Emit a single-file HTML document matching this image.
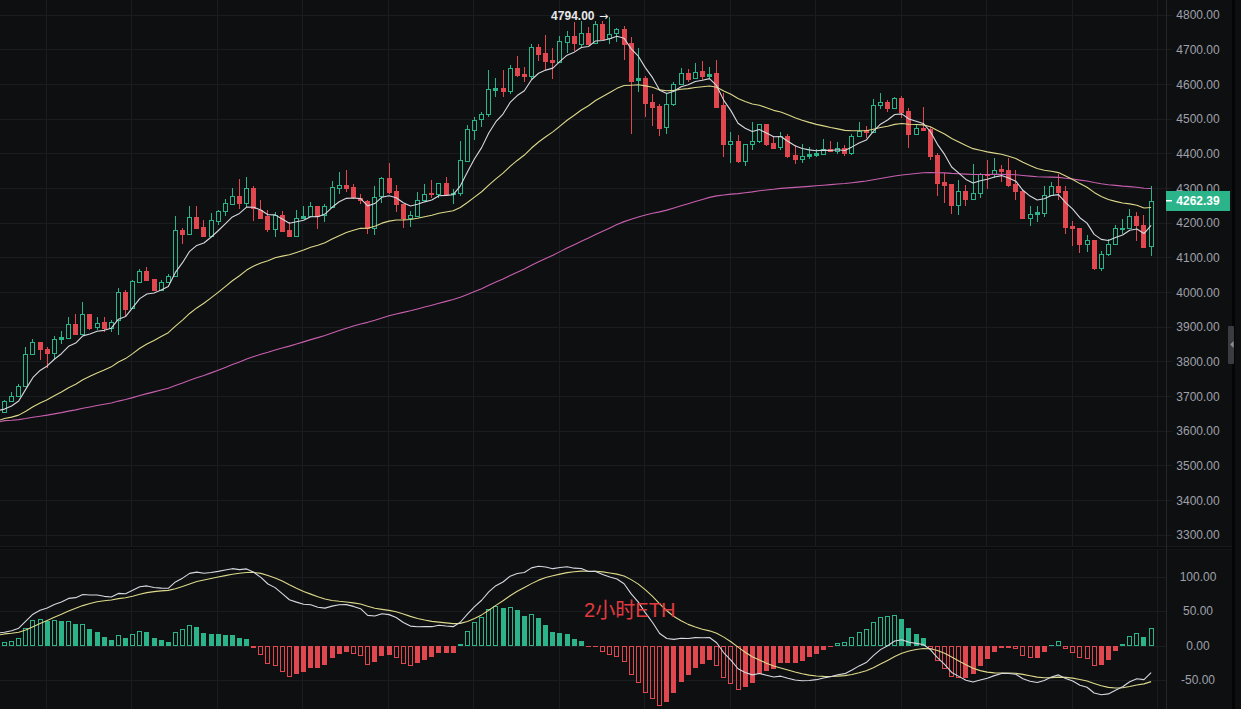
<!DOCTYPE html><html><head><meta charset="utf-8"><style>html,body{margin:0;padding:0;background:#0e0f11;width:1241px;height:709px;overflow:hidden}svg{display:block}text{font-family:"Liberation Sans","Noto Sans CJK SC",sans-serif}</style></head><body><svg width="1241" height="709" viewBox="0 0 1241 709"><rect x="0" y="0" width="1241" height="709" fill="#0e0f11"/><g fill="#1b1c20" shape-rendering="crispEdges"><rect x="46" y="0" width="1" height="709"/><rect x="131" y="0" width="1" height="709"/><rect x="217" y="0" width="1" height="709"/><rect x="302" y="0" width="1" height="709"/><rect x="388" y="0" width="1" height="709"/><rect x="473" y="0" width="1" height="709"/><rect x="559" y="0" width="1" height="709"/><rect x="644" y="0" width="1" height="709"/><rect x="730" y="0" width="1" height="709"/><rect x="815" y="0" width="1" height="709"/><rect x="901" y="0" width="1" height="709"/><rect x="986" y="0" width="1" height="709"/><rect x="1072" y="0" width="1" height="709"/><rect x="1157" y="0" width="1" height="709"/><rect x="0" y="15" width="1172" height="1"/><rect x="0" y="49" width="1172" height="1"/><rect x="0" y="84" width="1172" height="1"/><rect x="0" y="119" width="1172" height="1"/><rect x="0" y="153" width="1172" height="1"/><rect x="0" y="188" width="1172" height="1"/><rect x="0" y="223" width="1172" height="1"/><rect x="0" y="257" width="1172" height="1"/><rect x="0" y="292" width="1172" height="1"/><rect x="0" y="327" width="1172" height="1"/><rect x="0" y="361" width="1172" height="1"/><rect x="0" y="396" width="1172" height="1"/><rect x="0" y="431" width="1172" height="1"/><rect x="0" y="465" width="1172" height="1"/><rect x="0" y="500" width="1172" height="1"/><rect x="0" y="535" width="1172" height="1"/><rect x="0" y="577" width="1166" height="1"/><rect x="0" y="611" width="1166" height="1"/><rect x="0" y="646" width="1166" height="1"/><rect x="0" y="680" width="1166" height="1"/></g><rect x="0" y="546" width="1232" height="1" fill="#1a1b1e" shape-rendering="crispEdges"/><rect x="0" y="547" width="1232" height="2" fill="#0a0b0d" shape-rendering="crispEdges"/><rect x="0" y="549" width="1232" height="1" fill="#131417" shape-rendering="crispEdges"/><rect x="1166" y="0" width="1" height="709" fill="#26272c" shape-rendering="crispEdges"/><rect x="1232" y="0" width="3" height="709" fill="#050506" shape-rendering="crispEdges"/><g shape-rendering="crispEdges"><rect x="4" y="400" width="1" height="1" fill="#2bb48a"/><rect x="4" y="412" width="1" height="1" fill="#2bb48a"/><rect x="2.5" y="401.5" width="4" height="11" fill="none" stroke="#2bb48a" stroke-width="1"/><rect x="11" y="392" width="1" height="4" fill="#2bb48a"/><rect x="9.5" y="396.5" width="4" height="5" fill="none" stroke="#2bb48a" stroke-width="1"/><rect x="18" y="384" width="1" height="2" fill="#2bb48a"/><rect x="16.5" y="386.5" width="4" height="10" fill="none" stroke="#2bb48a" stroke-width="1"/><rect x="25" y="347" width="1" height="7" fill="#2bb48a"/><rect x="23.5" y="354.5" width="4" height="32" fill="none" stroke="#2bb48a" stroke-width="1"/><rect x="32" y="339" width="1" height="3" fill="#2bb48a"/><rect x="30.5" y="342.5" width="4" height="12" fill="none" stroke="#2bb48a" stroke-width="1"/><rect x="40" y="342" width="1" height="18" fill="#e1474f"/><rect x="38" y="342" width="5" height="8" fill="#e1474f"/><rect x="47" y="347" width="1" height="21" fill="#e1474f"/><rect x="45" y="349" width="5" height="5" fill="#e1474f"/><rect x="54" y="336" width="1" height="3" fill="#2bb48a"/><rect x="54" y="353" width="1" height="6" fill="#2bb48a"/><rect x="52.5" y="339.5" width="4" height="14" fill="none" stroke="#2bb48a" stroke-width="1"/><rect x="61" y="331" width="1" height="6" fill="#2bb48a"/><rect x="61" y="339" width="1" height="5" fill="#2bb48a"/><rect x="59" y="337" width="5" height="3" fill="#2bb48a"/><rect x="68" y="317" width="1" height="7" fill="#2bb48a"/><rect x="66.5" y="324.5" width="4" height="14" fill="none" stroke="#2bb48a" stroke-width="1"/><rect x="75" y="314" width="1" height="21" fill="#e1474f"/><rect x="73" y="324" width="5" height="11" fill="#e1474f"/><rect x="82" y="302" width="1" height="12" fill="#2bb48a"/><rect x="82" y="334" width="1" height="1" fill="#2bb48a"/><rect x="80.5" y="314.5" width="4" height="20" fill="none" stroke="#2bb48a" stroke-width="1"/><rect x="89" y="314" width="1" height="16" fill="#e1474f"/><rect x="87" y="314" width="5" height="15" fill="#e1474f"/><rect x="97" y="317" width="1" height="6" fill="#2bb48a"/><rect x="97" y="327" width="1" height="3" fill="#2bb48a"/><rect x="95.5" y="323.5" width="4" height="4" fill="none" stroke="#2bb48a" stroke-width="1"/><rect x="104" y="317" width="1" height="15" fill="#e1474f"/><rect x="102" y="322" width="5" height="7" fill="#e1474f"/><rect x="111" y="320" width="1" height="2" fill="#2bb48a"/><rect x="111" y="328" width="1" height="4" fill="#2bb48a"/><rect x="109.5" y="322.5" width="4" height="6" fill="none" stroke="#2bb48a" stroke-width="1"/><rect x="118" y="288" width="1" height="4" fill="#2bb48a"/><rect x="118" y="320" width="1" height="15" fill="#2bb48a"/><rect x="116.5" y="292.5" width="4" height="28" fill="none" stroke="#2bb48a" stroke-width="1"/><rect x="125" y="290" width="1" height="26" fill="#e1474f"/><rect x="123" y="292" width="5" height="18" fill="#e1474f"/><rect x="132" y="280" width="1" height="1" fill="#2bb48a"/><rect x="130.5" y="281.5" width="4" height="27" fill="none" stroke="#2bb48a" stroke-width="1"/><rect x="139" y="269" width="1" height="2" fill="#2bb48a"/><rect x="137.5" y="271.5" width="4" height="11" fill="none" stroke="#2bb48a" stroke-width="1"/><rect x="146" y="267" width="1" height="13" fill="#e1474f"/><rect x="144" y="271" width="5" height="10" fill="#e1474f"/><rect x="154" y="279" width="1" height="12" fill="#e1474f"/><rect x="152" y="279" width="5" height="12" fill="#e1474f"/><rect x="161" y="280" width="1" height="2" fill="#2bb48a"/><rect x="159.5" y="282.5" width="4" height="8" fill="none" stroke="#2bb48a" stroke-width="1"/><rect x="168" y="274" width="1" height="2" fill="#2bb48a"/><rect x="168" y="282" width="1" height="1" fill="#2bb48a"/><rect x="166.5" y="276.5" width="4" height="6" fill="none" stroke="#2bb48a" stroke-width="1"/><rect x="175" y="216" width="1" height="14" fill="#2bb48a"/><rect x="175" y="276" width="1" height="1" fill="#2bb48a"/><rect x="173.5" y="230.5" width="4" height="46" fill="none" stroke="#2bb48a" stroke-width="1"/><rect x="182" y="228" width="1" height="16" fill="#e1474f"/><rect x="180" y="230" width="5" height="5" fill="#e1474f"/><rect x="189" y="206" width="1" height="11" fill="#2bb48a"/><rect x="189" y="234" width="1" height="1" fill="#2bb48a"/><rect x="187.5" y="217.5" width="4" height="17" fill="none" stroke="#2bb48a" stroke-width="1"/><rect x="196" y="206" width="1" height="23" fill="#e1474f"/><rect x="194" y="217" width="5" height="12" fill="#e1474f"/><rect x="203" y="220" width="1" height="16" fill="#e1474f"/><rect x="201" y="227" width="5" height="10" fill="#e1474f"/><rect x="211" y="213" width="1" height="7" fill="#2bb48a"/><rect x="209.5" y="220.5" width="4" height="16" fill="none" stroke="#2bb48a" stroke-width="1"/><rect x="218" y="210" width="1" height="1" fill="#2bb48a"/><rect x="218" y="221" width="1" height="4" fill="#2bb48a"/><rect x="216.5" y="211.5" width="4" height="10" fill="none" stroke="#2bb48a" stroke-width="1"/><rect x="225" y="199" width="1" height="4" fill="#2bb48a"/><rect x="225" y="211" width="1" height="5" fill="#2bb48a"/><rect x="223.5" y="203.5" width="4" height="8" fill="none" stroke="#2bb48a" stroke-width="1"/><rect x="232" y="188" width="1" height="8" fill="#2bb48a"/><rect x="230.5" y="196.5" width="4" height="8" fill="none" stroke="#2bb48a" stroke-width="1"/><rect x="239" y="179" width="1" height="30" fill="#e1474f"/><rect x="237" y="196" width="5" height="8" fill="#e1474f"/><rect x="246" y="177" width="1" height="11" fill="#2bb48a"/><rect x="246" y="203" width="1" height="4" fill="#2bb48a"/><rect x="244.5" y="188.5" width="4" height="15" fill="none" stroke="#2bb48a" stroke-width="1"/><rect x="253" y="186" width="1" height="35" fill="#e1474f"/><rect x="251" y="188" width="5" height="21" fill="#e1474f"/><rect x="260" y="200" width="1" height="19" fill="#e1474f"/><rect x="258" y="210" width="5" height="9" fill="#e1474f"/><rect x="267" y="210" width="1" height="22" fill="#e1474f"/><rect x="265" y="216" width="5" height="14" fill="#e1474f"/><rect x="275" y="212" width="1" height="3" fill="#2bb48a"/><rect x="275" y="229" width="1" height="8" fill="#2bb48a"/><rect x="273.5" y="215.5" width="4" height="14" fill="none" stroke="#2bb48a" stroke-width="1"/><rect x="282" y="211" width="1" height="20" fill="#e1474f"/><rect x="280" y="215" width="5" height="17" fill="#e1474f"/><rect x="289" y="222" width="1" height="14" fill="#e1474f"/><rect x="287" y="230" width="5" height="7" fill="#e1474f"/><rect x="296" y="210" width="1" height="8" fill="#2bb48a"/><rect x="296" y="236" width="1" height="1" fill="#2bb48a"/><rect x="294.5" y="218.5" width="4" height="18" fill="none" stroke="#2bb48a" stroke-width="1"/><rect x="303" y="206" width="1" height="10" fill="#2bb48a"/><rect x="301" y="216" width="5" height="3" fill="#2bb48a"/><rect x="310" y="202" width="1" height="4" fill="#2bb48a"/><rect x="308.5" y="206.5" width="4" height="10" fill="none" stroke="#2bb48a" stroke-width="1"/><rect x="317" y="206" width="1" height="23" fill="#e1474f"/><rect x="315" y="206" width="5" height="11" fill="#e1474f"/><rect x="324" y="204" width="1" height="2" fill="#2bb48a"/><rect x="324" y="215" width="1" height="7" fill="#2bb48a"/><rect x="322.5" y="206.5" width="4" height="9" fill="none" stroke="#2bb48a" stroke-width="1"/><rect x="332" y="181" width="1" height="6" fill="#2bb48a"/><rect x="332" y="207" width="1" height="1" fill="#2bb48a"/><rect x="330.5" y="187.5" width="4" height="20" fill="none" stroke="#2bb48a" stroke-width="1"/><rect x="339" y="172" width="1" height="13" fill="#2bb48a"/><rect x="339" y="188" width="1" height="6" fill="#2bb48a"/><rect x="337.5" y="185.5" width="4" height="3" fill="none" stroke="#2bb48a" stroke-width="1"/><rect x="346" y="170" width="1" height="22" fill="#e1474f"/><rect x="344" y="185" width="5" height="4" fill="#e1474f"/><rect x="353" y="184" width="1" height="15" fill="#e1474f"/><rect x="351" y="187" width="5" height="11" fill="#e1474f"/><rect x="360" y="194" width="1" height="10" fill="#e1474f"/><rect x="358" y="198" width="5" height="3" fill="#e1474f"/><rect x="367" y="200" width="1" height="34" fill="#e1474f"/><rect x="365" y="201" width="5" height="28" fill="#e1474f"/><rect x="374" y="186" width="1" height="11" fill="#2bb48a"/><rect x="374" y="228" width="1" height="7" fill="#2bb48a"/><rect x="372.5" y="197.5" width="4" height="31" fill="none" stroke="#2bb48a" stroke-width="1"/><rect x="381" y="177" width="1" height="1" fill="#2bb48a"/><rect x="381" y="196" width="1" height="7" fill="#2bb48a"/><rect x="379.5" y="178.5" width="4" height="18" fill="none" stroke="#2bb48a" stroke-width="1"/><rect x="389" y="163" width="1" height="31" fill="#e1474f"/><rect x="387" y="178" width="5" height="15" fill="#e1474f"/><rect x="396" y="185" width="1" height="27" fill="#e1474f"/><rect x="394" y="191" width="5" height="14" fill="#e1474f"/><rect x="403" y="204" width="1" height="24" fill="#e1474f"/><rect x="401" y="204" width="5" height="15" fill="#e1474f"/><rect x="410" y="211" width="1" height="4" fill="#2bb48a"/><rect x="410" y="218" width="1" height="9" fill="#2bb48a"/><rect x="408.5" y="215.5" width="4" height="3" fill="none" stroke="#2bb48a" stroke-width="1"/><rect x="417" y="192" width="1" height="8" fill="#2bb48a"/><rect x="417" y="216" width="1" height="1" fill="#2bb48a"/><rect x="415.5" y="200.5" width="4" height="16" fill="none" stroke="#2bb48a" stroke-width="1"/><rect x="424" y="184" width="1" height="10" fill="#2bb48a"/><rect x="424" y="200" width="1" height="1" fill="#2bb48a"/><rect x="422.5" y="194.5" width="4" height="6" fill="none" stroke="#2bb48a" stroke-width="1"/><rect x="431" y="180" width="1" height="18" fill="#e1474f"/><rect x="429" y="193" width="5" height="2" fill="#e1474f"/><rect x="438" y="194" width="1" height="4" fill="#2bb48a"/><rect x="436.5" y="183.5" width="4" height="11" fill="none" stroke="#2bb48a" stroke-width="1"/><rect x="446" y="177" width="1" height="17" fill="#e1474f"/><rect x="444" y="183" width="5" height="12" fill="#e1474f"/><rect x="453" y="189" width="1" height="4" fill="#2bb48a"/><rect x="453" y="194" width="1" height="10" fill="#2bb48a"/><rect x="451" y="193" width="5" height="2" fill="#2bb48a"/><rect x="460" y="141" width="1" height="19" fill="#2bb48a"/><rect x="460" y="193" width="1" height="3" fill="#2bb48a"/><rect x="458.5" y="160.5" width="4" height="33" fill="none" stroke="#2bb48a" stroke-width="1"/><rect x="467" y="125" width="1" height="4" fill="#2bb48a"/><rect x="467" y="161" width="1" height="1" fill="#2bb48a"/><rect x="465.5" y="129.5" width="4" height="32" fill="none" stroke="#2bb48a" stroke-width="1"/><rect x="474" y="117" width="1" height="3" fill="#2bb48a"/><rect x="474" y="130" width="1" height="10" fill="#2bb48a"/><rect x="472.5" y="120.5" width="4" height="10" fill="none" stroke="#2bb48a" stroke-width="1"/><rect x="481" y="112" width="1" height="2" fill="#2bb48a"/><rect x="481" y="119" width="1" height="8" fill="#2bb48a"/><rect x="479.5" y="114.5" width="4" height="5" fill="none" stroke="#2bb48a" stroke-width="1"/><rect x="488" y="70" width="1" height="19" fill="#2bb48a"/><rect x="488" y="114" width="1" height="3" fill="#2bb48a"/><rect x="486.5" y="89.5" width="4" height="25" fill="none" stroke="#2bb48a" stroke-width="1"/><rect x="495" y="78" width="1" height="10" fill="#2bb48a"/><rect x="495" y="90" width="1" height="7" fill="#2bb48a"/><rect x="493" y="88" width="5" height="3" fill="#2bb48a"/><rect x="503" y="70" width="1" height="27" fill="#e1474f"/><rect x="501" y="88" width="5" height="4" fill="#e1474f"/><rect x="510" y="65" width="1" height="3" fill="#2bb48a"/><rect x="510" y="91" width="1" height="3" fill="#2bb48a"/><rect x="508.5" y="68.5" width="4" height="23" fill="none" stroke="#2bb48a" stroke-width="1"/><rect x="517" y="56" width="1" height="21" fill="#e1474f"/><rect x="515" y="68" width="5" height="8" fill="#e1474f"/><rect x="524" y="67" width="1" height="15" fill="#e1474f"/><rect x="522" y="74" width="5" height="3" fill="#e1474f"/><rect x="531" y="44" width="1" height="3" fill="#2bb48a"/><rect x="531" y="76" width="1" height="3" fill="#2bb48a"/><rect x="529.5" y="47.5" width="4" height="29" fill="none" stroke="#2bb48a" stroke-width="1"/><rect x="538" y="44" width="1" height="17" fill="#e1474f"/><rect x="536" y="47" width="5" height="8" fill="#e1474f"/><rect x="545" y="35" width="1" height="35" fill="#e1474f"/><rect x="543" y="53" width="5" height="9" fill="#e1474f"/><rect x="552" y="48" width="1" height="31" fill="#e1474f"/><rect x="550" y="60" width="5" height="3" fill="#e1474f"/><rect x="559" y="36" width="1" height="5" fill="#2bb48a"/><rect x="557.5" y="41.5" width="4" height="21" fill="none" stroke="#2bb48a" stroke-width="1"/><rect x="567" y="31" width="1" height="5" fill="#2bb48a"/><rect x="567" y="42" width="1" height="11" fill="#2bb48a"/><rect x="565.5" y="36.5" width="4" height="6" fill="none" stroke="#2bb48a" stroke-width="1"/><rect x="574" y="22" width="1" height="29" fill="#e1474f"/><rect x="572" y="36" width="5" height="8" fill="#e1474f"/><rect x="581" y="21" width="1" height="12" fill="#2bb48a"/><rect x="581" y="44" width="1" height="3" fill="#2bb48a"/><rect x="579.5" y="33.5" width="4" height="11" fill="none" stroke="#2bb48a" stroke-width="1"/><rect x="588" y="27" width="1" height="18" fill="#e1474f"/><rect x="586" y="33" width="5" height="12" fill="#e1474f"/><rect x="595" y="21" width="1" height="3" fill="#2bb48a"/><rect x="595" y="43" width="1" height="1" fill="#2bb48a"/><rect x="593.5" y="24.5" width="4" height="19" fill="none" stroke="#2bb48a" stroke-width="1"/><rect x="602" y="21" width="1" height="19" fill="#e1474f"/><rect x="600" y="24" width="5" height="16" fill="#e1474f"/><rect x="609" y="17" width="1" height="17" fill="#2bb48a"/><rect x="609" y="38" width="1" height="6" fill="#2bb48a"/><rect x="607.5" y="34.5" width="4" height="4" fill="none" stroke="#2bb48a" stroke-width="1"/><rect x="616" y="28" width="1" height="1" fill="#2bb48a"/><rect x="616" y="33" width="1" height="9" fill="#2bb48a"/><rect x="614.5" y="29.5" width="4" height="4" fill="none" stroke="#2bb48a" stroke-width="1"/><rect x="624" y="26" width="1" height="34" fill="#e1474f"/><rect x="622" y="29" width="5" height="16" fill="#e1474f"/><rect x="631" y="37" width="1" height="97" fill="#e1474f"/><rect x="629" y="43" width="5" height="39" fill="#e1474f"/><rect x="638" y="48" width="1" height="30" fill="#2bb48a"/><rect x="638" y="80" width="1" height="12" fill="#2bb48a"/><rect x="636" y="78" width="5" height="3" fill="#2bb48a"/><rect x="645" y="76" width="1" height="41" fill="#e1474f"/><rect x="643" y="78" width="5" height="26" fill="#e1474f"/><rect x="652" y="94" width="1" height="32" fill="#e1474f"/><rect x="650" y="102" width="5" height="6" fill="#e1474f"/><rect x="659" y="104" width="1" height="32" fill="#e1474f"/><rect x="657" y="106" width="5" height="23" fill="#e1474f"/><rect x="666" y="94" width="1" height="10" fill="#2bb48a"/><rect x="666" y="127" width="1" height="7" fill="#2bb48a"/><rect x="664.5" y="104.5" width="4" height="23" fill="none" stroke="#2bb48a" stroke-width="1"/><rect x="673" y="82" width="1" height="2" fill="#2bb48a"/><rect x="673" y="104" width="1" height="2" fill="#2bb48a"/><rect x="671.5" y="84.5" width="4" height="20" fill="none" stroke="#2bb48a" stroke-width="1"/><rect x="681" y="68" width="1" height="5" fill="#2bb48a"/><rect x="681" y="84" width="1" height="1" fill="#2bb48a"/><rect x="679.5" y="73.5" width="4" height="11" fill="none" stroke="#2bb48a" stroke-width="1"/><rect x="688" y="69" width="1" height="13" fill="#e1474f"/><rect x="686" y="73" width="5" height="7" fill="#e1474f"/><rect x="695" y="63" width="1" height="9" fill="#2bb48a"/><rect x="693.5" y="72.5" width="4" height="6" fill="none" stroke="#2bb48a" stroke-width="1"/><rect x="702" y="61" width="1" height="19" fill="#e1474f"/><rect x="700" y="71" width="5" height="6" fill="#e1474f"/><rect x="709" y="67" width="1" height="7" fill="#2bb48a"/><rect x="709" y="76" width="1" height="2" fill="#2bb48a"/><rect x="707" y="74" width="5" height="3" fill="#2bb48a"/><rect x="716" y="60" width="1" height="47" fill="#e1474f"/><rect x="714" y="73" width="5" height="35" fill="#e1474f"/><rect x="723" y="93" width="1" height="64" fill="#e1474f"/><rect x="721" y="105" width="5" height="40" fill="#e1474f"/><rect x="730" y="132" width="1" height="9" fill="#2bb48a"/><rect x="730" y="144" width="1" height="19" fill="#2bb48a"/><rect x="728.5" y="141.5" width="4" height="3" fill="none" stroke="#2bb48a" stroke-width="1"/><rect x="738" y="135" width="1" height="28" fill="#e1474f"/><rect x="736" y="141" width="5" height="21" fill="#e1474f"/><rect x="745" y="161" width="1" height="5" fill="#2bb48a"/><rect x="743.5" y="144.5" width="4" height="17" fill="none" stroke="#2bb48a" stroke-width="1"/><rect x="752" y="122" width="1" height="19" fill="#2bb48a"/><rect x="752" y="144" width="1" height="6" fill="#2bb48a"/><rect x="750.5" y="141.5" width="4" height="3" fill="none" stroke="#2bb48a" stroke-width="1"/><rect x="759" y="141" width="1" height="2" fill="#2bb48a"/><rect x="757.5" y="124.5" width="4" height="17" fill="none" stroke="#2bb48a" stroke-width="1"/><rect x="766" y="124" width="1" height="22" fill="#e1474f"/><rect x="764" y="124" width="5" height="21" fill="#e1474f"/><rect x="773" y="136" width="1" height="12" fill="#e1474f"/><rect x="771" y="143" width="5" height="6" fill="#e1474f"/><rect x="780" y="132" width="1" height="4" fill="#2bb48a"/><rect x="780" y="147" width="1" height="3" fill="#2bb48a"/><rect x="778.5" y="136.5" width="4" height="11" fill="none" stroke="#2bb48a" stroke-width="1"/><rect x="787" y="134" width="1" height="24" fill="#e1474f"/><rect x="785" y="136" width="5" height="21" fill="#e1474f"/><rect x="795" y="145" width="1" height="19" fill="#e1474f"/><rect x="793" y="155" width="5" height="5" fill="#e1474f"/><rect x="802" y="144" width="1" height="12" fill="#2bb48a"/><rect x="802" y="159" width="1" height="4" fill="#2bb48a"/><rect x="800.5" y="156.5" width="4" height="3" fill="none" stroke="#2bb48a" stroke-width="1"/><rect x="809" y="147" width="1" height="7" fill="#2bb48a"/><rect x="809" y="156" width="1" height="3" fill="#2bb48a"/><rect x="807" y="154" width="5" height="3" fill="#2bb48a"/><rect x="816" y="149" width="1" height="4" fill="#2bb48a"/><rect x="816" y="155" width="1" height="2" fill="#2bb48a"/><rect x="814" y="153" width="5" height="3" fill="#2bb48a"/><rect x="823" y="139" width="1" height="10" fill="#2bb48a"/><rect x="821.5" y="149.5" width="4" height="5" fill="none" stroke="#2bb48a" stroke-width="1"/><rect x="830" y="141" width="1" height="11" fill="#e1474f"/><rect x="828" y="149" width="5" height="3" fill="#e1474f"/><rect x="837" y="142" width="1" height="6" fill="#2bb48a"/><rect x="837" y="151" width="1" height="3" fill="#2bb48a"/><rect x="835.5" y="148.5" width="4" height="3" fill="none" stroke="#2bb48a" stroke-width="1"/><rect x="844" y="145" width="1" height="11" fill="#e1474f"/><rect x="842" y="148" width="5" height="6" fill="#e1474f"/><rect x="851" y="134" width="1" height="2" fill="#2bb48a"/><rect x="851" y="153" width="1" height="2" fill="#2bb48a"/><rect x="849.5" y="136.5" width="4" height="17" fill="none" stroke="#2bb48a" stroke-width="1"/><rect x="859" y="122" width="1" height="9" fill="#2bb48a"/><rect x="859" y="136" width="1" height="1" fill="#2bb48a"/><rect x="857.5" y="131.5" width="4" height="5" fill="none" stroke="#2bb48a" stroke-width="1"/><rect x="866" y="126" width="1" height="12" fill="#e1474f"/><rect x="864" y="130" width="5" height="3" fill="#e1474f"/><rect x="873" y="99" width="1" height="6" fill="#2bb48a"/><rect x="871.5" y="105.5" width="4" height="27" fill="none" stroke="#2bb48a" stroke-width="1"/><rect x="880" y="93" width="1" height="9" fill="#2bb48a"/><rect x="880" y="105" width="1" height="4" fill="#2bb48a"/><rect x="878.5" y="102.5" width="4" height="3" fill="none" stroke="#2bb48a" stroke-width="1"/><rect x="887" y="100" width="1" height="12" fill="#e1474f"/><rect x="885" y="102" width="5" height="7" fill="#e1474f"/><rect x="894" y="97" width="1" height="1" fill="#2bb48a"/><rect x="892.5" y="98.5" width="4" height="10" fill="none" stroke="#2bb48a" stroke-width="1"/><rect x="901" y="96" width="1" height="22" fill="#e1474f"/><rect x="899" y="98" width="5" height="15" fill="#e1474f"/><rect x="908" y="108" width="1" height="40" fill="#e1474f"/><rect x="906" y="111" width="5" height="24" fill="#e1474f"/><rect x="916" y="125" width="1" height="3" fill="#2bb48a"/><rect x="914.5" y="128.5" width="4" height="6" fill="none" stroke="#2bb48a" stroke-width="1"/><rect x="923" y="107" width="1" height="24" fill="#e1474f"/><rect x="921" y="128" width="5" height="3" fill="#e1474f"/><rect x="930" y="127" width="1" height="33" fill="#e1474f"/><rect x="928" y="129" width="5" height="28" fill="#e1474f"/><rect x="937" y="153" width="1" height="43" fill="#e1474f"/><rect x="935" y="155" width="5" height="29" fill="#e1474f"/><rect x="944" y="173" width="1" height="30" fill="#e1474f"/><rect x="942" y="182" width="5" height="4" fill="#e1474f"/><rect x="951" y="184" width="1" height="30" fill="#e1474f"/><rect x="949" y="184" width="5" height="22" fill="#e1474f"/><rect x="958" y="180" width="1" height="11" fill="#2bb48a"/><rect x="958" y="205" width="1" height="10" fill="#2bb48a"/><rect x="956.5" y="191.5" width="4" height="14" fill="none" stroke="#2bb48a" stroke-width="1"/><rect x="965" y="185" width="1" height="21" fill="#e1474f"/><rect x="963" y="191" width="5" height="9" fill="#e1474f"/><rect x="973" y="164" width="1" height="29" fill="#2bb48a"/><rect x="971.5" y="193.5" width="4" height="6" fill="none" stroke="#2bb48a" stroke-width="1"/><rect x="980" y="173" width="1" height="1" fill="#2bb48a"/><rect x="980" y="193" width="1" height="5" fill="#2bb48a"/><rect x="978.5" y="174.5" width="4" height="19" fill="none" stroke="#2bb48a" stroke-width="1"/><rect x="987" y="160" width="1" height="29" fill="#e1474f"/><rect x="985" y="174" width="5" height="2" fill="#e1474f"/><rect x="994" y="158" width="1" height="12" fill="#2bb48a"/><rect x="994" y="174" width="1" height="4" fill="#2bb48a"/><rect x="992.5" y="170.5" width="4" height="4" fill="none" stroke="#2bb48a" stroke-width="1"/><rect x="1001" y="165" width="1" height="17" fill="#e1474f"/><rect x="999" y="169" width="5" height="3" fill="#e1474f"/><rect x="1008" y="158" width="1" height="29" fill="#e1474f"/><rect x="1006" y="170" width="5" height="16" fill="#e1474f"/><rect x="1015" y="170" width="1" height="30" fill="#e1474f"/><rect x="1013" y="184" width="5" height="8" fill="#e1474f"/><rect x="1022" y="190" width="1" height="29" fill="#e1474f"/><rect x="1020" y="191" width="5" height="28" fill="#e1474f"/><rect x="1030" y="206" width="1" height="8" fill="#2bb48a"/><rect x="1030" y="218" width="1" height="8" fill="#2bb48a"/><rect x="1028.5" y="214.5" width="4" height="4" fill="none" stroke="#2bb48a" stroke-width="1"/><rect x="1037" y="206" width="1" height="6" fill="#2bb48a"/><rect x="1037" y="214" width="1" height="8" fill="#2bb48a"/><rect x="1035" y="212" width="5" height="3" fill="#2bb48a"/><rect x="1044" y="186" width="1" height="9" fill="#2bb48a"/><rect x="1044" y="213" width="1" height="4" fill="#2bb48a"/><rect x="1042.5" y="195.5" width="4" height="18" fill="none" stroke="#2bb48a" stroke-width="1"/><rect x="1051" y="182" width="1" height="4" fill="#2bb48a"/><rect x="1051" y="195" width="1" height="1" fill="#2bb48a"/><rect x="1049.5" y="186.5" width="4" height="9" fill="none" stroke="#2bb48a" stroke-width="1"/><rect x="1058" y="174" width="1" height="26" fill="#e1474f"/><rect x="1056" y="186" width="5" height="7" fill="#e1474f"/><rect x="1065" y="186" width="1" height="48" fill="#e1474f"/><rect x="1063" y="191" width="5" height="37" fill="#e1474f"/><rect x="1072" y="221" width="1" height="25" fill="#e1474f"/><rect x="1070" y="226" width="5" height="3" fill="#e1474f"/><rect x="1079" y="228" width="1" height="25" fill="#e1474f"/><rect x="1077" y="228" width="5" height="17" fill="#e1474f"/><rect x="1087" y="235" width="1" height="5" fill="#2bb48a"/><rect x="1087" y="244" width="1" height="8" fill="#2bb48a"/><rect x="1085.5" y="240.5" width="4" height="4" fill="none" stroke="#2bb48a" stroke-width="1"/><rect x="1094" y="240" width="1" height="30" fill="#e1474f"/><rect x="1092" y="240" width="5" height="29" fill="#e1474f"/><rect x="1101" y="251" width="1" height="3" fill="#2bb48a"/><rect x="1101" y="268" width="1" height="3" fill="#2bb48a"/><rect x="1099.5" y="254.5" width="4" height="14" fill="none" stroke="#2bb48a" stroke-width="1"/><rect x="1108" y="239" width="1" height="5" fill="#2bb48a"/><rect x="1108" y="254" width="1" height="2" fill="#2bb48a"/><rect x="1106.5" y="244.5" width="4" height="10" fill="none" stroke="#2bb48a" stroke-width="1"/><rect x="1115" y="225" width="1" height="3" fill="#2bb48a"/><rect x="1115" y="244" width="1" height="1" fill="#2bb48a"/><rect x="1113.5" y="228.5" width="4" height="16" fill="none" stroke="#2bb48a" stroke-width="1"/><rect x="1122" y="219" width="1" height="9" fill="#2bb48a"/><rect x="1122" y="229" width="1" height="5" fill="#2bb48a"/><rect x="1120" y="228" width="5" height="2" fill="#2bb48a"/><rect x="1129" y="209" width="1" height="7" fill="#2bb48a"/><rect x="1129" y="228" width="1" height="1" fill="#2bb48a"/><rect x="1127.5" y="216.5" width="4" height="12" fill="none" stroke="#2bb48a" stroke-width="1"/><rect x="1136" y="212" width="1" height="29" fill="#e1474f"/><rect x="1134" y="216" width="5" height="10" fill="#e1474f"/><rect x="1143" y="215" width="1" height="33" fill="#e1474f"/><rect x="1141" y="225" width="5" height="23" fill="#e1474f"/><rect x="1151" y="186" width="1" height="15" fill="#2bb48a"/><rect x="1151" y="246" width="1" height="10" fill="#2bb48a"/><rect x="1149.5" y="201.5" width="4" height="45" fill="none" stroke="#2bb48a" stroke-width="1"/></g><path d="M0.00,421.70 L4.47,420.62 L11.59,420.22 L18.71,419.66 L25.83,418.57 L32.96,417.31 L40.08,416.19 L47.20,415.14 L54.32,413.88 L61.44,412.61 L68.57,411.14 L75.69,409.86 L82.81,408.28 L89.93,406.96 L97.05,405.57 L104.18,404.28 L111.30,402.92 L118.42,401.09 L125.54,399.56 L132.66,397.60 L139.79,395.52 L146.91,393.61 L154.03,391.89 L161.15,390.07 L168.27,388.18 L175.40,385.57 L182.52,383.05 L189.64,380.31 L196.76,377.79 L203.88,375.44 L211.01,372.87 L218.13,370.20 L225.25,367.44 L232.37,364.61 L239.49,361.93 L246.62,359.07 L253.74,356.56 L260.86,354.27 L267.98,352.21 L275.10,349.94 L282.23,347.98 L289.35,346.13 L296.47,344.00 L303.59,341.88 L310.71,339.64 L317.84,337.60 L324.96,335.43 L332.08,332.97 L339.20,330.53 L346.32,328.18 L353.45,326.01 L360.57,323.93 L367.69,322.34 L374.81,320.27 L381.93,317.92 L389.06,315.83 L396.18,313.97 L403.30,312.39 L410.42,310.78 L417.54,308.94 L424.67,307.05 L431.79,305.19 L438.91,303.17 L446.03,301.36 L453.15,299.57 L460.28,297.27 L467.40,294.49 L474.52,291.60 L481.64,288.67 L488.76,285.37 L495.89,282.10 L503.01,278.94 L510.13,275.45 L517.25,272.13 L524.37,268.90 L531.50,265.22 L538.62,261.73 L545.74,258.41 L552.86,255.17 L559.98,251.63 L567.11,248.08 L574.23,244.69 L581.35,241.19 L588.47,237.93 L595.59,234.40 L602.72,231.16 L609.84,227.90 L616.96,224.61 L624.08,221.63 L631.20,219.30 L638.33,216.96 L645.45,215.08 L652.57,213.29 L659.69,211.89 L666.81,210.10 L673.94,208.02 L681.06,205.79 L688.18,203.69 L695.30,201.51 L702.42,199.44 L709.55,197.37 L716.67,195.87 L723.79,195.02 L730.91,194.13 L738.03,193.58 L745.16,192.76 L752.28,191.91 L759.40,190.78 L766.52,190.00 L773.64,189.30 L780.77,188.42 L787.89,187.88 L795.01,187.40 L802.13,186.89 L809.25,186.35 L816.38,185.80 L823.50,185.19 L830.62,184.63 L837.74,184.01 L844.86,183.49 L851.99,182.71 L859.11,181.86 L866.23,181.03 L873.35,179.77 L880.47,178.50 L887.60,177.32 L894.72,176.01 L901.84,174.95 L908.96,174.28 L916.08,173.52 L923.21,172.80 L930.33,172.52 L937.45,172.69 L944.57,172.88 L951.69,173.41 L958.82,173.71 L965.94,174.12 L973.06,174.44 L980.18,174.43 L987.30,174.44 L994.43,174.37 L1001.55,174.32 L1008.67,174.50 L1015.79,174.77 L1022.91,175.48 L1030.04,176.10 L1037.16,176.69 L1044.28,176.99 L1051.40,177.14 L1058.52,177.39 L1065.65,178.20 L1072.77,179.03 L1079.89,180.10 L1087.01,181.08 L1094.13,182.52 L1101.26,183.70 L1108.38,184.70 L1115.50,185.42 L1122.62,186.12 L1129.74,186.61 L1136.87,187.25 L1143.99,188.24 L1151.11,188.45" fill="none" stroke="#c75fae" stroke-width="1.1" stroke-linejoin="round"/><path d="M0.00,420.10 L4.47,418.55 L11.59,417.12 L18.71,415.13 L25.83,411.16 L32.96,406.71 L40.08,403.02 L47.20,399.76 L54.32,395.85 L61.44,392.07 L68.57,387.67 L75.69,384.17 L82.81,379.67 L89.93,376.36 L97.05,372.90 L104.18,369.99 L111.30,366.87 L118.42,362.05 L125.54,358.61 L132.66,353.61 L139.79,348.31 L146.91,343.91 L154.03,340.41 L161.15,336.61 L168.27,332.67 L175.40,326.07 L182.52,320.10 L189.64,313.46 L196.76,307.93 L203.88,303.27 L211.01,297.90 L218.13,292.31 L225.25,286.56 L232.37,280.72 L239.49,275.70 L246.62,270.07 L253.74,266.04 L260.86,262.94 L267.98,260.77 L275.10,257.83 L282.23,256.10 L289.35,254.81 L296.47,252.40 L303.59,250.03 L310.71,247.20 L317.84,245.21 L324.96,242.70 L332.08,239.10 L339.20,235.64 L346.32,232.56 L353.45,230.28 L360.57,228.34 L367.69,228.29 L374.81,226.26 L381.93,223.15 L389.06,221.11 L396.18,219.98 L403.30,219.86 L410.42,219.56 L417.54,218.27 L424.67,216.73 L431.79,215.28 L438.91,213.20 L446.03,211.97 L453.15,210.73 L460.28,207.48 L467.40,202.44 L474.52,197.09 L481.64,191.73 L488.76,185.11 L495.89,178.84 L503.01,173.17 L510.13,166.37 L517.25,160.45 L524.37,155.02 L531.50,148.04 L538.62,141.96 L545.74,136.71 L552.86,131.91 L559.98,126.07 L567.11,120.29 L574.23,115.30 L581.35,110.01 L588.47,105.75 L595.59,100.48 L602.72,96.51 L609.84,92.45 L616.96,88.36 L624.08,85.49 L631.20,85.18 L638.33,84.73 L645.45,85.90 L652.57,87.27 L659.69,89.91 L666.81,90.79 L673.94,90.38 L681.06,89.26 L688.18,88.59 L695.30,87.50 L702.42,86.79 L709.55,85.95 L716.67,87.30 L723.79,90.99 L730.91,94.24 L738.03,98.53 L745.16,101.45 L752.28,104.02 L759.40,105.29 L766.52,107.77 L773.64,110.34 L780.77,111.99 L787.89,114.80 L795.01,117.66 L802.13,120.16 L809.25,122.36 L816.38,124.35 L823.50,125.91 L830.62,127.56 L837.74,128.84 L844.86,130.38 L851.99,130.75 L859.11,130.77 L866.23,130.82 L873.35,129.17 L880.47,127.45 L887.60,126.17 L894.72,124.35 L901.84,123.54 L908.96,124.24 L916.08,124.48 L923.21,124.85 L930.33,126.84 L937.45,130.44 L944.57,133.94 L951.69,138.51 L958.82,141.92 L965.94,145.58 L973.06,148.65 L980.18,150.31 L987.30,151.89 L994.43,153.09 L1001.55,154.25 L1008.67,156.24 L1015.79,158.47 L1022.91,162.29 L1030.04,165.59 L1037.16,168.55 L1044.28,170.26 L1051.40,171.27 L1058.52,172.61 L1065.65,176.10 L1072.77,179.47 L1079.89,183.61 L1087.01,187.21 L1094.13,192.42 L1101.26,196.42 L1108.38,199.47 L1115.50,201.35 L1122.62,203.05 L1129.74,203.88 L1136.87,205.25 L1143.99,207.96 L1151.11,207.52" fill="none" stroke="#dcd88a" stroke-width="1.1" stroke-linejoin="round"/><path d="M0.00,410.10 L4.47,409.12 L11.59,405.94 L18.71,401.03 L25.83,389.15 L32.96,377.43 L40.08,370.43 L47.20,365.97 L54.32,359.25 L61.44,353.74 L68.57,346.28 L75.69,343.08 L82.81,335.89 L89.93,334.02 L97.05,331.19 L104.18,330.34 L111.30,328.16 L118.42,319.17 L125.54,316.55 L132.66,307.71 L139.79,298.63 L146.91,294.00 L154.03,292.93 L161.15,290.07 L168.27,286.45 L175.40,272.41 L182.52,262.69 L189.64,251.31 L196.76,245.41 L203.88,242.98 L211.01,237.26 L218.13,230.75 L225.25,223.86 L232.37,216.89 L239.49,213.42 L246.62,207.17 L253.74,207.27 L260.86,209.96 L267.98,214.79 L275.10,214.89 L282.23,218.92 L289.35,223.22 L296.47,221.79 L303.59,220.24 L310.71,216.73 L317.84,216.65 L324.96,214.04 L332.08,207.28 L339.20,201.81 L346.32,198.36 L353.45,198.07 L360.57,198.58 L367.69,205.86 L374.81,203.57 L381.93,197.20 L389.06,195.80 L396.18,197.73 L403.30,202.82 L410.42,205.94 L417.54,204.33 L424.67,201.85 L431.79,199.96 L438.91,195.75 L446.03,195.33 L453.15,194.68 L460.28,186.11 L467.40,171.90 L474.52,158.80 L481.64,147.63 L488.76,133.00 L495.89,121.72 L503.01,114.04 L510.13,102.46 L517.25,95.52 L524.37,90.69 L531.50,79.72 L538.62,73.24 L545.74,70.10 L552.86,68.15 L559.98,61.46 L567.11,55.20 L574.23,52.15 L581.35,47.44 L588.47,46.55 L595.59,40.94 L602.72,40.43 L609.84,38.75 L616.96,36.31 L624.08,38.21 L631.20,48.83 L638.33,56.17 L645.45,67.85 L652.57,77.67 L659.69,90.30 L666.81,93.60 L673.94,91.30 L681.06,86.75 L688.18,84.76 L695.30,81.50 L702.42,80.25 L709.55,78.64 L716.67,85.68 L723.79,100.38 L730.91,110.64 L738.03,123.18 L745.16,128.31 L752.28,131.58 L759.40,129.59 L766.52,133.11 L773.64,136.74 L780.77,136.55 L787.89,141.31 L795.01,145.74 L802.13,148.43 L809.25,149.89 L816.38,150.70 L823.50,150.17 L830.62,150.48 L837.74,149.73 L844.86,150.45 L851.99,146.89 L859.11,142.94 L866.23,140.08 L873.35,131.36 L880.47,124.15 L887.60,120.01 L894.72,114.51 L901.84,113.83 L908.96,118.97 L916.08,121.23 L923.21,123.45 L930.33,131.51 L937.45,144.31 L944.57,154.41 L951.69,166.98 L958.82,173.08 L965.94,179.46 L973.06,182.92 L980.18,180.77 L987.30,179.28 L994.43,177.08 L1001.55,175.59 L1008.67,177.94 L1015.79,181.15 L1022.91,190.29 L1030.04,196.09 L1037.16,199.94 L1044.28,198.71 L1051.40,195.53 L1058.52,194.65 L1065.65,202.66 L1072.77,209.07 L1079.89,217.70 L1087.01,223.15 L1094.13,234.36 L1101.26,239.35 L1108.38,240.46 L1115.50,237.47 L1122.62,235.03 L1129.74,230.25 L1136.87,228.98 L1143.99,233.54 L1151.11,225.45" fill="none" stroke="#d6d8e0" stroke-width="1.1" stroke-linejoin="round"/><g shape-rendering="crispEdges"><rect x="2.5" y="642.5" width="4" height="3" fill="none" stroke="#2bb48a" stroke-width="1"/><rect x="9.5" y="641.5" width="4" height="4" fill="none" stroke="#2bb48a" stroke-width="1"/><rect x="16.5" y="638.5" width="4" height="7" fill="none" stroke="#2bb48a" stroke-width="1"/><rect x="23.5" y="628.5" width="4" height="17" fill="none" stroke="#2bb48a" stroke-width="1"/><rect x="30.5" y="620.5" width="4" height="25" fill="none" stroke="#2bb48a" stroke-width="1"/><rect x="38.5" y="619.5" width="4" height="26" fill="none" stroke="#2bb48a" stroke-width="1"/><rect x="45" y="621" width="5" height="25" fill="#2bb48a"/><rect x="52.5" y="620.5" width="4" height="25" fill="none" stroke="#2bb48a" stroke-width="1"/><rect x="59" y="621" width="5" height="25" fill="#2bb48a"/><rect x="66.5" y="621.5" width="4" height="24" fill="none" stroke="#2bb48a" stroke-width="1"/><rect x="73" y="624" width="5" height="22" fill="#2bb48a"/><rect x="80.5" y="624.5" width="4" height="21" fill="none" stroke="#2bb48a" stroke-width="1"/><rect x="87" y="629" width="5" height="17" fill="#2bb48a"/><rect x="95" y="632" width="5" height="14" fill="#2bb48a"/><rect x="102" y="637" width="5" height="9" fill="#2bb48a"/><rect x="109" y="640" width="5" height="6" fill="#2bb48a"/><rect x="116.5" y="635.5" width="4" height="10" fill="none" stroke="#2bb48a" stroke-width="1"/><rect x="123" y="638" width="5" height="8" fill="#2bb48a"/><rect x="130.5" y="634.5" width="4" height="11" fill="none" stroke="#2bb48a" stroke-width="1"/><rect x="137.5" y="631.5" width="4" height="14" fill="none" stroke="#2bb48a" stroke-width="1"/><rect x="144" y="632" width="5" height="14" fill="#2bb48a"/><rect x="152" y="638" width="5" height="8" fill="#2bb48a"/><rect x="159" y="640" width="5" height="6" fill="#2bb48a"/><rect x="166" y="642" width="5" height="4" fill="#2bb48a"/><rect x="173.5" y="632.5" width="4" height="13" fill="none" stroke="#2bb48a" stroke-width="1"/><rect x="180.5" y="629.5" width="4" height="16" fill="none" stroke="#2bb48a" stroke-width="1"/><rect x="187.5" y="625.5" width="4" height="20" fill="none" stroke="#2bb48a" stroke-width="1"/><rect x="194" y="627" width="5" height="19" fill="#2bb48a"/><rect x="201" y="633" width="5" height="13" fill="#2bb48a"/><rect x="209" y="634" width="5" height="12" fill="#2bb48a"/><rect x="216" y="634" width="5" height="12" fill="#2bb48a"/><rect x="223" y="635" width="5" height="11" fill="#2bb48a"/><rect x="230" y="635" width="5" height="11" fill="#2bb48a"/><rect x="237" y="638" width="5" height="8" fill="#2bb48a"/><rect x="244" y="639" width="5" height="7" fill="#2bb48a"/><rect x="251" y="646" width="5" height="2" fill="#e1474f"/><rect x="258.5" y="646.5" width="4" height="8" fill="none" stroke="#e1474f" stroke-width="1"/><rect x="265.5" y="646.5" width="4" height="17" fill="none" stroke="#e1474f" stroke-width="1"/><rect x="273.5" y="646.5" width="4" height="19" fill="none" stroke="#e1474f" stroke-width="1"/><rect x="280.5" y="646.5" width="4" height="25" fill="none" stroke="#e1474f" stroke-width="1"/><rect x="287.5" y="646.5" width="4" height="30" fill="none" stroke="#e1474f" stroke-width="1"/><rect x="294" y="646" width="5" height="28" fill="#e1474f"/><rect x="301" y="646" width="5" height="26" fill="#e1474f"/><rect x="308" y="646" width="5" height="22" fill="#e1474f"/><rect x="315" y="646" width="5" height="22" fill="#e1474f"/><rect x="322" y="646" width="5" height="19" fill="#e1474f"/><rect x="330" y="646" width="5" height="12" fill="#e1474f"/><rect x="337" y="646" width="5" height="8" fill="#e1474f"/><rect x="344" y="646" width="5" height="6" fill="#e1474f"/><rect x="351.5" y="646.5" width="4" height="7" fill="none" stroke="#e1474f" stroke-width="1"/><rect x="358.5" y="646.5" width="4" height="9" fill="none" stroke="#e1474f" stroke-width="1"/><rect x="365.5" y="646.5" width="4" height="18" fill="none" stroke="#e1474f" stroke-width="1"/><rect x="372" y="646" width="5" height="16" fill="#e1474f"/><rect x="379" y="646" width="5" height="10" fill="#e1474f"/><rect x="387" y="646" width="5" height="9" fill="#e1474f"/><rect x="394.5" y="646.5" width="4" height="11" fill="none" stroke="#e1474f" stroke-width="1"/><rect x="401.5" y="646.5" width="4" height="17" fill="none" stroke="#e1474f" stroke-width="1"/><rect x="408.5" y="646.5" width="4" height="19" fill="none" stroke="#e1474f" stroke-width="1"/><rect x="415" y="646" width="5" height="17" fill="#e1474f"/><rect x="422" y="646" width="5" height="14" fill="#e1474f"/><rect x="429" y="646" width="5" height="11" fill="#e1474f"/><rect x="436" y="646" width="5" height="7" fill="#e1474f"/><rect x="444" y="646" width="5" height="7" fill="#e1474f"/><rect x="451" y="646" width="5" height="7" fill="#e1474f"/><rect x="458" y="644" width="5" height="2" fill="#2bb48a"/><rect x="465.5" y="631.5" width="4" height="14" fill="none" stroke="#2bb48a" stroke-width="1"/><rect x="472.5" y="622.5" width="4" height="23" fill="none" stroke="#2bb48a" stroke-width="1"/><rect x="479.5" y="617.5" width="4" height="28" fill="none" stroke="#2bb48a" stroke-width="1"/><rect x="486.5" y="609.5" width="4" height="36" fill="none" stroke="#2bb48a" stroke-width="1"/><rect x="493.5" y="606.5" width="4" height="39" fill="none" stroke="#2bb48a" stroke-width="1"/><rect x="501" y="608" width="5" height="38" fill="#2bb48a"/><rect x="508.5" y="607.5" width="4" height="38" fill="none" stroke="#2bb48a" stroke-width="1"/><rect x="515" y="610" width="5" height="36" fill="#2bb48a"/><rect x="522" y="616" width="5" height="30" fill="#2bb48a"/><rect x="529.5" y="614.5" width="4" height="31" fill="none" stroke="#2bb48a" stroke-width="1"/><rect x="536" y="618" width="5" height="28" fill="#2bb48a"/><rect x="543" y="625" width="5" height="21" fill="#2bb48a"/><rect x="550" y="632" width="5" height="14" fill="#2bb48a"/><rect x="557" y="633" width="5" height="13" fill="#2bb48a"/><rect x="565" y="634" width="5" height="12" fill="#2bb48a"/><rect x="572" y="639" width="5" height="7" fill="#2bb48a"/><rect x="579" y="641" width="5" height="5" fill="#2bb48a"/><rect x="586" y="646" width="5" height="1" fill="#e1474f"/><rect x="593" y="646" width="5" height="1" fill="#e1474f"/><rect x="600.5" y="646.5" width="4" height="5" fill="none" stroke="#e1474f" stroke-width="1"/><rect x="607.5" y="646.5" width="4" height="8" fill="none" stroke="#e1474f" stroke-width="1"/><rect x="614.5" y="646.5" width="4" height="10" fill="none" stroke="#e1474f" stroke-width="1"/><rect x="622.5" y="646.5" width="4" height="15" fill="none" stroke="#e1474f" stroke-width="1"/><rect x="629.5" y="646.5" width="4" height="28" fill="none" stroke="#e1474f" stroke-width="1"/><rect x="636.5" y="646.5" width="4" height="36" fill="none" stroke="#e1474f" stroke-width="1"/><rect x="643.5" y="646.5" width="4" height="46" fill="none" stroke="#e1474f" stroke-width="1"/><rect x="650.5" y="646.5" width="4" height="52" fill="none" stroke="#e1474f" stroke-width="1"/><rect x="657.5" y="646.5" width="4" height="59" fill="none" stroke="#e1474f" stroke-width="1"/><rect x="664" y="646" width="5" height="56" fill="#e1474f"/><rect x="671" y="646" width="5" height="47" fill="#e1474f"/><rect x="679" y="646" width="5" height="36" fill="#e1474f"/><rect x="686" y="646" width="5" height="29" fill="#e1474f"/><rect x="693" y="646" width="5" height="22" fill="#e1474f"/><rect x="700" y="646" width="5" height="18" fill="#e1474f"/><rect x="707" y="646" width="5" height="14" fill="#e1474f"/><rect x="714.5" y="646.5" width="4" height="19" fill="none" stroke="#e1474f" stroke-width="1"/><rect x="721.5" y="646.5" width="4" height="31" fill="none" stroke="#e1474f" stroke-width="1"/><rect x="728.5" y="646.5" width="4" height="37" fill="none" stroke="#e1474f" stroke-width="1"/><rect x="736.5" y="646.5" width="4" height="43" fill="none" stroke="#e1474f" stroke-width="1"/><rect x="743" y="646" width="5" height="41" fill="#e1474f"/><rect x="750" y="646" width="5" height="37" fill="#e1474f"/><rect x="757" y="646" width="5" height="28" fill="#e1474f"/><rect x="764" y="646" width="5" height="25" fill="#e1474f"/><rect x="771" y="646" width="5" height="23" fill="#e1474f"/><rect x="778" y="646" width="5" height="17" fill="#e1474f"/><rect x="785" y="646" width="5" height="17" fill="#e1474f"/><rect x="793" y="646" width="5" height="17" fill="#e1474f"/><rect x="800" y="646" width="5" height="15" fill="#e1474f"/><rect x="807" y="646" width="5" height="11" fill="#e1474f"/><rect x="814" y="646" width="5" height="8" fill="#e1474f"/><rect x="821" y="646" width="5" height="4" fill="#e1474f"/><rect x="828" y="646" width="5" height="1" fill="#e1474f"/><rect x="835.5" y="643.5" width="4" height="2" fill="none" stroke="#2bb48a" stroke-width="1"/><rect x="842.5" y="642.5" width="4" height="3" fill="none" stroke="#2bb48a" stroke-width="1"/><rect x="849.5" y="637.5" width="4" height="8" fill="none" stroke="#2bb48a" stroke-width="1"/><rect x="857.5" y="632.5" width="4" height="13" fill="none" stroke="#2bb48a" stroke-width="1"/><rect x="864.5" y="629.5" width="4" height="16" fill="none" stroke="#2bb48a" stroke-width="1"/><rect x="871.5" y="622.5" width="4" height="23" fill="none" stroke="#2bb48a" stroke-width="1"/><rect x="878.5" y="617.5" width="4" height="28" fill="none" stroke="#2bb48a" stroke-width="1"/><rect x="885.5" y="616.5" width="4" height="29" fill="none" stroke="#2bb48a" stroke-width="1"/><rect x="892.5" y="615.5" width="4" height="30" fill="none" stroke="#2bb48a" stroke-width="1"/><rect x="899" y="619" width="5" height="27" fill="#2bb48a"/><rect x="906" y="628" width="5" height="18" fill="#2bb48a"/><rect x="914" y="634" width="5" height="12" fill="#2bb48a"/><rect x="921" y="638" width="5" height="8" fill="#2bb48a"/><rect x="928.5" y="646.5" width="4" height="2" fill="none" stroke="#e1474f" stroke-width="1"/><rect x="935.5" y="646.5" width="4" height="14" fill="none" stroke="#e1474f" stroke-width="1"/><rect x="942.5" y="646.5" width="4" height="22" fill="none" stroke="#e1474f" stroke-width="1"/><rect x="949.5" y="646.5" width="4" height="30" fill="none" stroke="#e1474f" stroke-width="1"/><rect x="956.5" y="646.5" width="4" height="31" fill="none" stroke="#e1474f" stroke-width="1"/><rect x="963" y="646" width="5" height="32" fill="#e1474f"/><rect x="971" y="646" width="5" height="28" fill="#e1474f"/><rect x="978" y="646" width="5" height="20" fill="#e1474f"/><rect x="985" y="646" width="5" height="13" fill="#e1474f"/><rect x="992" y="646" width="5" height="6" fill="#e1474f"/><rect x="999" y="646" width="5" height="2" fill="#e1474f"/><rect x="1006" y="646" width="5" height="2" fill="#e1474f"/><rect x="1013.5" y="646.5" width="4" height="2" fill="none" stroke="#e1474f" stroke-width="1"/><rect x="1020.5" y="646.5" width="4" height="9" fill="none" stroke="#e1474f" stroke-width="1"/><rect x="1028.5" y="646.5" width="4" height="11" fill="none" stroke="#e1474f" stroke-width="1"/><rect x="1035" y="646" width="5" height="12" fill="#e1474f"/><rect x="1042" y="646" width="5" height="6" fill="#e1474f"/><rect x="1049" y="645" width="5" height="1" fill="#2bb48a"/><rect x="1056.5" y="641.5" width="4" height="4" fill="none" stroke="#2bb48a" stroke-width="1"/><rect x="1063.5" y="646.5" width="4" height="2" fill="none" stroke="#e1474f" stroke-width="1"/><rect x="1070.5" y="646.5" width="4" height="6" fill="none" stroke="#e1474f" stroke-width="1"/><rect x="1077.5" y="646.5" width="4" height="11" fill="none" stroke="#e1474f" stroke-width="1"/><rect x="1085.5" y="646.5" width="4" height="12" fill="none" stroke="#e1474f" stroke-width="1"/><rect x="1092.5" y="646.5" width="4" height="19" fill="none" stroke="#e1474f" stroke-width="1"/><rect x="1099" y="646" width="5" height="19" fill="#e1474f"/><rect x="1106" y="646" width="5" height="14" fill="#e1474f"/><rect x="1113" y="646" width="5" height="5" fill="#e1474f"/><rect x="1120" y="644" width="5" height="2" fill="#2bb48a"/><rect x="1127.5" y="636.5" width="4" height="9" fill="none" stroke="#2bb48a" stroke-width="1"/><rect x="1134.5" y="633.5" width="4" height="12" fill="none" stroke="#2bb48a" stroke-width="1"/><rect x="1141" y="637" width="5" height="9" fill="#2bb48a"/><rect x="1149.5" y="628.5" width="4" height="17" fill="none" stroke="#2bb48a" stroke-width="1"/></g><path d="M0.00,634.70 L4.47,633.92 L11.59,633.28 L18.71,632.26 L25.83,630.04 L32.96,626.87 L40.08,623.53 L47.20,620.42 L54.32,617.24 L61.44,614.19 L68.57,611.04 L75.69,608.36 L82.81,605.60 L89.93,603.47 L97.05,601.77 L104.18,600.68 L111.30,599.94 L118.42,598.64 L125.54,597.67 L132.66,596.20 L139.79,594.31 L146.91,592.63 L154.03,591.60 L161.15,590.90 L168.27,590.38 L175.40,588.69 L182.52,586.58 L189.64,583.94 L196.76,581.58 L203.88,579.92 L211.01,578.44 L218.13,577.02 L225.25,575.62 L232.37,574.23 L239.49,573.30 L246.62,572.43 L253.74,572.40 L260.86,573.40 L267.98,575.52 L275.10,577.94 L282.23,581.08 L289.35,584.82 L296.47,588.28 L303.59,591.46 L310.71,594.12 L317.84,596.76 L324.96,599.03 L332.08,600.46 L339.20,601.32 L346.32,601.98 L353.45,602.87 L360.57,604.03 L367.69,606.29 L374.81,608.22 L381.93,609.34 L389.06,610.40 L396.18,611.82 L403.30,613.95 L410.42,616.38 L417.54,618.44 L424.67,620.07 L431.79,621.39 L438.91,622.15 L446.03,622.92 L453.15,623.67 L460.28,623.39 L467.40,621.54 L474.52,618.55 L481.64,614.89 L488.76,610.28 L495.89,605.36 L503.01,600.69 L510.13,595.79 L517.25,591.34 L524.37,587.57 L531.50,583.62 L538.62,580.14 L545.74,577.50 L552.86,575.74 L559.98,574.10 L567.11,572.64 L574.23,571.75 L581.35,571.11 L588.47,571.18 L595.59,571.23 L602.72,571.90 L609.84,572.93 L616.96,574.15 L624.08,576.05 L631.20,579.62 L638.33,584.12 L645.45,589.88 L652.57,596.40 L659.69,603.83 L666.81,610.75 L673.94,616.47 L681.06,620.84 L688.18,624.38 L695.30,627.02 L702.42,629.17 L709.55,630.85 L716.67,633.22 L723.79,637.14 L730.91,641.73 L738.03,647.13 L745.16,652.22 L752.28,656.74 L759.40,660.10 L766.52,663.14 L773.64,665.92 L780.77,667.97 L787.89,670.03 L795.01,672.04 L802.13,673.77 L809.25,675.11 L816.38,676.02 L823.50,676.40 L830.62,676.46 L837.74,676.11 L844.86,675.62 L851.99,674.48 L859.11,672.76 L866.23,670.72 L873.35,667.70 L880.47,664.08 L887.60,660.40 L894.72,656.54 L901.84,653.17 L908.96,651.00 L916.08,649.47 L923.21,648.48 L930.33,648.70 L937.45,650.50 L944.57,653.26 L951.69,657.09 L958.82,660.95 L965.94,664.81 L973.06,668.26 L980.18,670.62 L987.30,672.13 L994.43,672.83 L1001.55,672.95 L1008.67,673.07 L1015.79,673.31 L1022.91,674.41 L1030.04,675.78 L1037.16,677.13 L1044.28,677.79 L1051.40,677.63 L1058.52,677.08 L1065.65,677.35 L1072.77,678.09 L1079.89,679.51 L1087.01,681.06 L1094.13,683.45 L1101.26,685.71 L1108.38,687.34 L1115.50,687.93 L1122.62,687.70 L1129.74,686.50 L1136.87,684.96 L1143.99,683.89 L1151.11,681.63" fill="none" stroke="#dcd88a" stroke-width="1.1" stroke-linejoin="round"/><path d="M0.00,632.70 L4.47,632.18 L11.59,630.74 L18.71,628.18 L25.83,621.17 L32.96,614.18 L40.08,610.19 L47.20,607.97 L54.32,604.53 L61.44,602.00 L68.57,598.40 L75.69,597.65 L82.81,594.56 L89.93,594.96 L97.05,594.95 L104.18,596.33 L111.30,597.00 L118.42,593.40 L125.54,593.80 L132.66,590.34 L139.79,586.71 L146.91,585.92 L154.03,587.50 L161.15,588.11 L168.27,588.30 L175.40,581.92 L182.52,578.15 L189.64,573.38 L196.76,572.14 L203.88,573.27 L211.01,572.51 L218.13,571.34 L225.25,570.00 L232.37,568.67 L239.49,569.62 L246.62,568.91 L253.74,572.28 L260.86,577.41 L267.98,584.00 L275.10,587.63 L282.23,593.65 L289.35,599.77 L296.47,602.13 L303.59,604.18 L310.71,604.77 L317.84,607.31 L324.96,608.13 L332.08,606.15 L339.20,604.79 L346.32,604.61 L353.45,606.40 L360.57,608.71 L367.69,615.33 L374.81,615.93 L381.93,613.80 L389.06,614.63 L396.18,617.53 L403.30,622.44 L410.42,626.11 L417.54,626.70 L424.67,626.57 L431.79,626.67 L438.91,625.19 L446.03,626.01 L453.15,626.66 L460.28,622.26 L467.40,614.14 L474.52,606.58 L481.64,600.25 L488.76,591.84 L495.89,585.67 L503.01,582.02 L510.13,576.19 L517.25,573.52 L524.37,572.49 L531.50,567.86 L538.62,566.22 L545.74,566.94 L552.86,568.66 L559.98,567.57 L567.11,566.81 L574.23,568.17 L581.35,568.57 L588.47,571.45 L595.59,571.41 L602.72,574.58 L609.84,577.05 L616.96,579.02 L624.08,583.69 L631.20,593.90 L638.33,602.09 L645.45,612.93 L652.57,622.46 L659.69,633.55 L666.81,638.45 L673.94,639.34 L681.06,638.32 L688.18,638.51 L695.30,637.62 L702.42,637.77 L709.55,637.56 L716.67,642.72 L723.79,652.79 L730.91,660.10 L738.03,668.75 L745.16,672.55 L752.28,674.86 L759.40,673.51 L766.52,675.32 L773.64,677.03 L780.77,676.17 L787.89,678.26 L795.01,680.07 L802.13,680.70 L809.25,680.45 L816.38,679.66 L823.50,677.95 L830.62,676.68 L837.74,674.72 L844.86,673.66 L851.99,669.91 L859.11,665.89 L866.23,662.57 L873.35,655.61 L880.47,649.61 L887.60,645.68 L894.72,641.07 L901.84,639.71 L908.96,642.30 L916.08,643.35 L923.21,644.54 L930.33,649.55 L937.45,657.72 L944.57,664.30 L951.69,672.42 L958.82,676.37 L965.94,680.26 L973.06,682.07 L980.18,680.06 L987.30,678.17 L994.43,675.64 L1001.55,673.41 L1008.67,673.56 L1015.79,674.28 L1022.91,678.79 L1030.04,681.28 L1037.16,682.51 L1044.28,680.44 L1051.40,676.99 L1058.52,674.89 L1065.65,678.41 L1072.77,681.06 L1079.89,685.16 L1087.01,687.28 L1094.13,692.99 L1101.26,694.74 L1108.38,693.90 L1115.50,690.26 L1122.62,686.77 L1129.74,681.70 L1136.87,678.79 L1143.99,679.63 L1151.11,672.60" fill="none" stroke="#d6d8e0" stroke-width="1.1" stroke-linejoin="round"/><g font-size="12" fill="#9fa1aa"><text x="1198" y="19.4" text-anchor="middle">4800.00</text><text x="1198" y="54.1" text-anchor="middle">4700.00</text><text x="1198" y="88.7" text-anchor="middle">4600.00</text><text x="1198" y="123.4" text-anchor="middle">4500.00</text><text x="1198" y="158.1" text-anchor="middle">4400.00</text><text x="1198" y="192.7" text-anchor="middle">4300.00</text><text x="1198" y="227.4" text-anchor="middle">4200.00</text><text x="1198" y="262.1" text-anchor="middle">4100.00</text><text x="1198" y="296.7" text-anchor="middle">4000.00</text><text x="1198" y="331.4" text-anchor="middle">3900.00</text><text x="1198" y="366.1" text-anchor="middle">3800.00</text><text x="1198" y="400.7" text-anchor="middle">3700.00</text><text x="1198" y="435.4" text-anchor="middle">3600.00</text><text x="1198" y="470.1" text-anchor="middle">3500.00</text><text x="1198" y="504.7" text-anchor="middle">3400.00</text><text x="1198" y="539.4" text-anchor="middle">3300.00</text><text x="1198" y="581.4" text-anchor="middle">100.00</text><text x="1198" y="615.4" text-anchor="middle">50.00</text><text x="1198" y="650.4" text-anchor="middle">0.00</text><text x="1198" y="684.4" text-anchor="middle">-50.00</text></g><rect x="1166" y="191" width="64" height="20" fill="#2bb48a"/><rect x="1166" y="200" width="6" height="1.5" fill="#ffffff"/><text x="1198" y="205.3" text-anchor="middle" font-size="12" font-weight="bold" fill="#ffffff">4262.39</text><text x="594.5" y="20.2" text-anchor="end" font-size="12" font-weight="bold" fill="#e8e8ea">4794.00</text><text x="599" y="20.3" font-size="11" fill="#ececee" style="font-family:DejaVu Sans,sans-serif">→</text><text x="584" y="617" font-size="21" fill="#e03a3f" textLength="91.5" lengthAdjust="spacingAndGlyphs">2小时ETH</text><rect x="1228" y="326" width="6" height="38" rx="1" fill="#3b3c41"/><path d="M1230.2,344.5 L1233.6,341 L1233.6,348 Z" fill="#8d8e94"/></svg></body></html>
